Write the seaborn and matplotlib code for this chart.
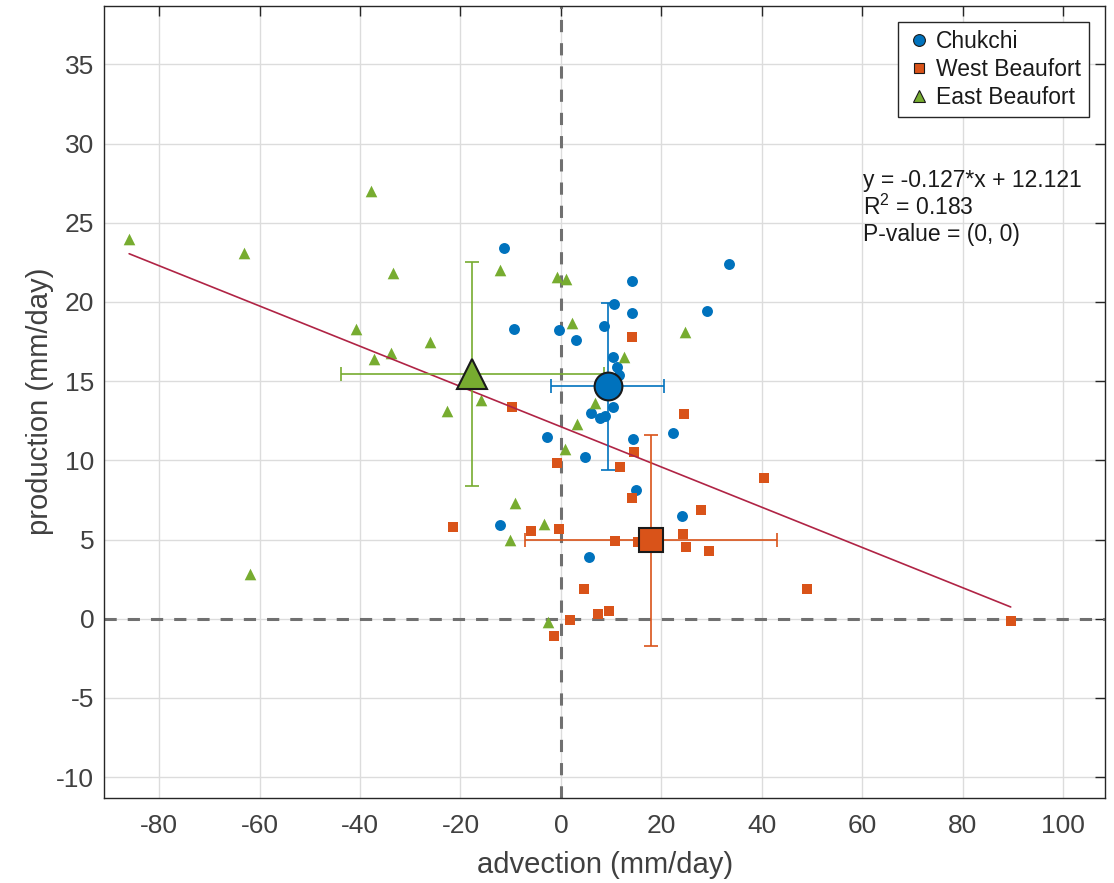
import numpy as np
import pandas as pd
import matplotlib
matplotlib.use("Agg")
import matplotlib.pyplot as plt
import seaborn as sns
from matplotlib.lines import Line2D

# ---------- data ----------
chukchi_x = [-11.3, -9.3, -0.4, 3.1, 8.5, 10.5, 14.2, 14.2, 33.5, 29.1, 10.3, 11.1, 11.5,
             10.4, 6.0, 7.8, 8.7, -2.8, 4.8, 14.3, 22.4, 15.0, 24.2, -12.2, 5.5]
chukchi_y = [23.4, 18.3, 18.25, 17.6, 18.5, 19.9, 21.3, 19.3, 22.4, 19.4, 16.55, 15.9, 15.4,
             13.35, 13.0, 12.7, 12.8, 11.5, 10.2, 11.35, 11.7, 8.1, 6.5, 5.9, 3.9]

west_x = [-9.8, 24.6, 14.6, 11.7, -0.8, 40.5, 14.2, 27.9, -21.4, -6.0, -0.3, 10.8, 15.4,
          24.4, 24.9, 29.6, 49.0, 4.6, 7.4, 9.6, 1.8, -1.4, 14.2, 89.6]
west_y = [13.35, 12.9, 10.5, 9.6, 9.8, 8.9, 7.6, 6.85, 5.77, 5.55, 5.64, 4.9, 4.85,
          5.37, 4.5, 4.3, 1.9, 1.9, 0.27, 0.47, -0.1, -1.1, 17.8, -0.15]

east_x = [-86.0, -63.1, -37.9, -33.4, -40.8, -37.2, -33.9, -26.0, -22.6, -16.0, -12.1, -9.2,
          -10.2, -61.9, -3.3, -2.5, 0.8, 3.3, 6.7, -0.7, 1.0, 2.3, 24.7, 12.6]
east_y = [24.0, 23.1, 27.0, 21.8, 18.3, 16.4, 16.8, 17.5, 13.1, 13.8, 22.0, 7.3,
          5.0, 2.8, 6.0, -0.2, 10.7, 12.3, 13.6, 21.55, 21.45, 18.7, 18.1, 16.5]

regions = ["Chukchi", "West Beaufort", "East Beaufort"]
mean_x = [9.3, 18.0, -17.7]
mean_y = [14.67, 4.95, 15.45]
std_x = [11.3, 25.1, 26.2]
std_y = [5.27, 6.65, 7.05]

slope = -0.127
intercept = 12.121
r2 = 0.183

colors = {"Chukchi": "#0072BD", "West Beaufort": "#D95319", "East Beaufort": "#77AC30"}
markers = {"Chukchi": "o", "West Beaufort": "s", "East Beaufort": "^"}

df = pd.DataFrame({
    "advection": chukchi_x + west_x + east_x,
    "production": chukchi_y + west_y + east_y,
    "region": ["Chukchi"] * len(chukchi_x) + ["West Beaufort"] * len(west_x)
              + ["East Beaufort"] * len(east_x),
})

# ---------- plotting ----------
sns.set_style("white")
plt.rcParams["font.family"] = ["Liberation Sans", "DejaVu Sans"]
plt.rcParams["mathtext.fontset"] = "custom"
plt.rcParams["mathtext.rm"] = "Liberation Sans"
plt.rcParams["axes.unicode_minus"] = False

fig = plt.figure(figsize=(11.14, 8.83), dpi=100)
ax = fig.add_axes([0.0934, 0.0966, 0.8986, 0.8969])

ax.axvline(0, color="#707070", lw=2.2, ls=(0, (4, 3.6)), zorder=1)
ax.axhline(0, color="#707070", lw=2.2, ls=(0, (4, 3.6)), zorder=1)

sizes = {"Chukchi": 62, "West Beaufort": 58, "East Beaufort": 70}
for reg in regions:
    sub = df[df["region"] == reg]
    sns.scatterplot(data=sub, x="advection", y="production", color=colors[reg],
                    marker=markers[reg], s=sizes[reg], linewidth=0, ax=ax,
                    legend=False, zorder=3)

# regression line across the data range
xl = np.array([df["advection"].min(), df["advection"].max()])
ax.plot(xl, slope * xl + intercept, color="#B02445", lw=1.2, zorder=4)

big = {"Chukchi": 20, "West Beaufort": 17, "East Beaufort": 21}
for i, reg in enumerate(regions):
    ax.errorbar(mean_x[i], mean_y[i], xerr=std_x[i], yerr=std_y[i], fmt="none",
                ecolor=colors[reg], elinewidth=1.2, capsize=5, capthick=1.2, zorder=5)
    ax.plot(mean_x[i], mean_y[i], marker=markers[reg], ms=big[reg], color=colors[reg],
            mec="#1a1a1a", mew=1.5, ls="none", zorder=6)

ax.text(60.2, 28.4, "y = %.3f*x + %.3f\nR$^{2}$ = %.3f\nP-value = (0, 0)" % (slope, intercept, r2),
        fontsize=16.5, va="top", ha="left", linespacing=1.15, color="#1a1a1a", zorder=7)

handles = [Line2D([], [], marker=markers[r], color=colors[r], mec="#1a1a1a", mew=0.8,
                  ms=8.5 if r != "West Beaufort" else 7.5, ls="none") for r in regions]
leg = ax.legend(handles, regions, loc="upper right", fontsize=16.5, frameon=True,
                fancybox=False, edgecolor="#262626", framealpha=1, borderpad=0.35,
                handletextpad=0.2, handlelength=1.1, labelspacing=0.22,
                bbox_to_anchor=(0.9955, 0.994))
leg.get_frame().set_linewidth(1.0)
for t in leg.get_texts():
    t.set_color("#1a1a1a")

ax.set_xlim(-91, 108.4)
ax.set_ylim(-11.3, 38.7)
ax.set_xticks(np.arange(-80, 101, 20))
ax.set_yticks(np.arange(-10, 36, 5))
ax.grid(True, color="#dcdcdc", lw=1.0)
ax.set_axisbelow(True)
ax.tick_params(direction="in", length=7, width=1, colors="#262626", labelsize=19,
               top=True, right=True, labelcolor="#404040")
ax.tick_params(axis="x", pad=12)
ax.tick_params(axis="y", pad=7)
for s in ax.spines.values():
    s.set_color("#262626")
    s.set_linewidth(1.0)

ax.set_xlabel("advection (mm/day)", fontsize=21, color="#404040", labelpad=9)
ax.set_ylabel("production (mm/day)", fontsize=21, color="#404040", labelpad=2)

fig.savefig("out.png", dpi=100)
